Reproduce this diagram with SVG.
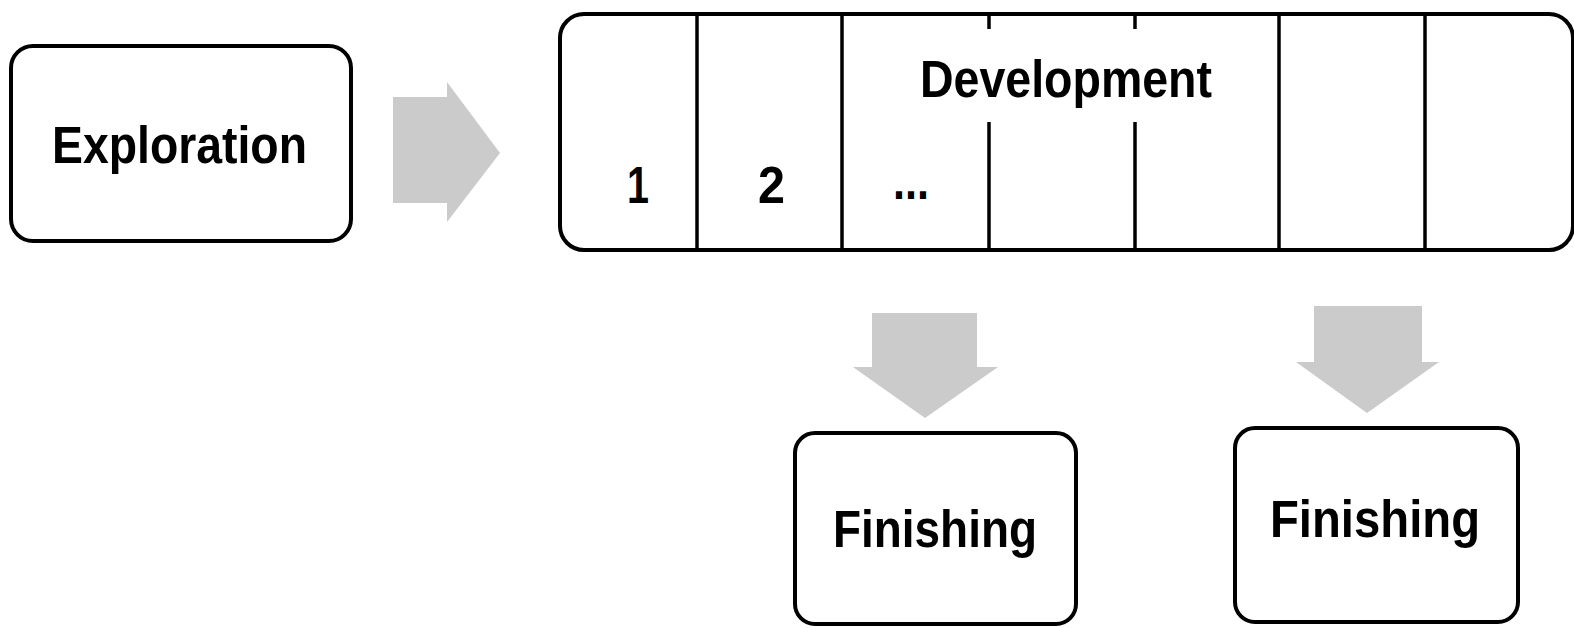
<svg xmlns="http://www.w3.org/2000/svg" width="1574" height="628" viewBox="0 0 1574 628">
  <style>
    .box { fill: #ffffff; stroke: #000000; stroke-width: 4; }
    .div { stroke: #000000; stroke-width: 3.5; fill: none; }
    .flow { fill: #cbcbcb; stroke: none; }
    .lbl { font-family: "Liberation Sans", Arial, sans-serif; font-weight: bold; font-size: 51px; fill: #000000; }
  </style>
  <rect width="1574" height="628" fill="#ffffff"/>

  <!-- Exploration phase -->
  <g id="exploration">
    <rect class="box" x="11" y="46" width="340" height="195" rx="22"/>
    <text class="lbl" x="52" y="163" textLength="255" lengthAdjust="spacingAndGlyphs">Exploration</text>
  </g>

  <!-- Development phase, split into iterations -->
  <g id="development">
    <rect class="box" x="560" y="14" width="1013" height="236" rx="24"/>
    <line class="div" x1="697" y1="14" x2="697" y2="250"/>
    <line class="div" x1="842" y1="14" x2="842" y2="250"/>
    <line class="div" x1="989" y1="14" x2="989" y2="29"/>
    <line class="div" x1="989" y1="122" x2="989" y2="250"/>
    <line class="div" x1="1135" y1="14" x2="1135" y2="29"/>
    <line class="div" x1="1135" y1="122" x2="1135" y2="250"/>
    <line class="div" x1="1279" y1="14" x2="1279" y2="250"/>
    <line class="div" x1="1425" y1="14" x2="1425" y2="250"/>
    <text class="lbl" x="920" y="97" textLength="292" lengthAdjust="spacingAndGlyphs">Development</text>
    <text class="lbl" x="627" y="203" textLength="22" lengthAdjust="spacingAndGlyphs">1</text>
    <text class="lbl" x="758" y="203" textLength="27" lengthAdjust="spacingAndGlyphs">2</text>
    <text class="lbl" x="893" y="199" textLength="36" lengthAdjust="spacingAndGlyphs">...</text>
  </g>

  <!-- Finishing, first release -->
  <g id="finishing-1">
    <rect class="box" x="795" y="433" width="281" height="191" rx="20"/>
    <text class="lbl" x="833" y="547" textLength="204" lengthAdjust="spacingAndGlyphs">Finishing</text>
  </g>

  <!-- Finishing, second release -->
  <g id="finishing-2">
    <rect class="box" x="1235" y="428" width="283" height="194" rx="20"/>
    <text class="lbl" x="1270" y="537" textLength="210" lengthAdjust="spacingAndGlyphs">Finishing</text>
  </g>

  <!-- Block arrows between phases -->
  <g id="connectors">
    <polygon class="flow" points="393,97 447,97 447,82 500,153 447,222 447,203 393,203"/>
    <polygon class="flow" points="872,313 977,313 977,367 998,367 925,418 853,367 872,367"/>
    <polygon class="flow" points="1314,306 1422,306 1422,362 1439,362 1367,413 1296,362 1314,362"/>
  </g>
</svg>
